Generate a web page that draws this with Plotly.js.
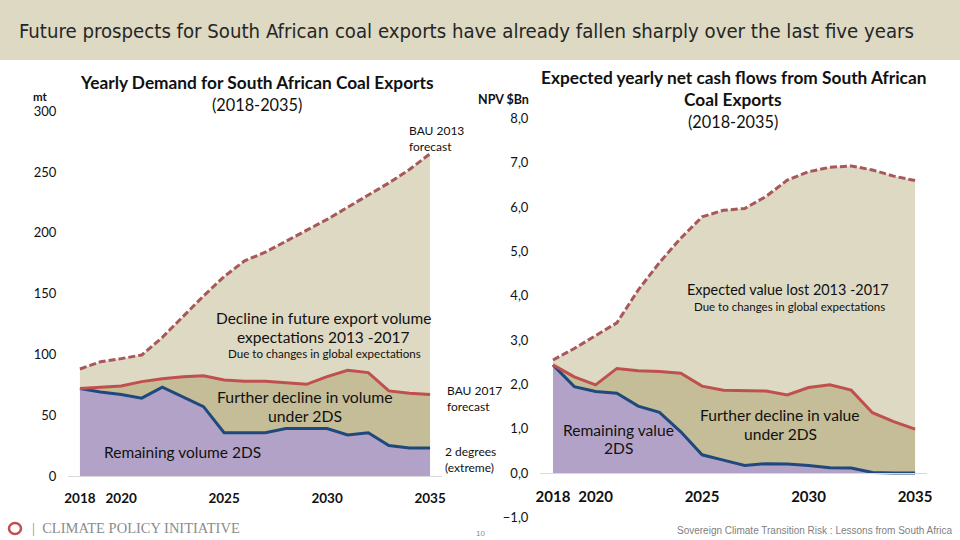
<!DOCTYPE html>
<html>
<head>
<meta charset="utf-8">
<script src="https://cdn.plot.ly/plotly-3.0.1.min.js"></script>
<style>
  html, body { margin: 0; padding: 0; background: #ffffff; }
  #chart { width: 960px; height: 540px; }
</style>
</head>
<body>
<div id="chart"></div>
<script>
// ---------- data ----------
const years = [2018, 2019, 2020, 2021, 2022, 2023, 2024, 2025, 2026, 2027, 2028, 2029, 2030, 2031, 2032, 2033, 2034, 2035];

// Left panel: yearly demand (mt)
const volBau2013 = [88, 94, 96.5, 99.5, 114, 131, 148, 164, 177, 184, 193, 202, 211, 221, 231, 241, 252, 265];
const volBau2017 = [72, 73, 74, 77.6, 80, 81.7, 82.5, 79, 78, 78, 77, 75.4, 81.7, 87, 85, 70, 68, 67];
const vol2DS     = [72, 69, 67, 64, 73, 65, 57, 35.6, 35.6, 35.6, 39, 39, 39, 33.7, 35.6, 25, 23, 23];

// Right panel: expected yearly net cash flows (NPV $Bn)
const cashBau2013 = [2.55, 2.81, 3.1, 3.39, 4.13, 4.75, 5.3, 5.78, 5.93, 5.97, 6.24, 6.61, 6.8, 6.9, 6.93, 6.84, 6.7, 6.6];
const cashBau2017 = [2.44, 2.17, 1.99, 2.36, 2.31, 2.29, 2.25, 1.96, 1.87, 1.86, 1.85, 1.76, 1.93, 1.99, 1.87, 1.36, 1.16, 0.99];
const cash2DS     = [2.44, 1.95, 1.84, 1.8, 1.51, 1.37, 0.93, 0.41, 0.29, 0.17, 0.21, 0.2, 0.17, 0.12, 0.11, 0.01, 0, 0];

const xTicks = [2018, 2020, 2025, 2030, 2035];
const leftYTicks = [0, 50, 100, 150, 200, 250, 300];
const rightYTicks = [-1, 0, 1, 2, 3, 4, 5, 6, 7, 8];

// ---------- styles ----------
const C_PURPLE = '#b3a2c7';
const C_OLIVE = '#c4bd97';
const C_BEIGE = '#ddd9c3';
const C_RED = '#c0504d';
const C_DASH = '#a8585a';
const C_BLUE = '#1f497d';
const F = 'Lato, "Open Sans", sans-serif';

const W = 960, H = 540;
const px = v => v / W;
const py = v => 1 - v / H;

function stack(xa, ya, low, mid, top) {
  return [
    { x: years, y: low, xaxis: xa, yaxis: ya, type: 'scatter', mode: 'lines',
      line: { color: C_BLUE, width: 3 }, fill: 'tozeroy', fillcolor: C_PURPLE, hoverinfo: 'skip' },
    { x: years, y: mid, xaxis: xa, yaxis: ya, type: 'scatter', mode: 'lines',
      line: { color: C_RED, width: 3 }, fill: 'tonexty', fillcolor: C_OLIVE, hoverinfo: 'skip' },
    { x: years, y: top, xaxis: xa, yaxis: ya, type: 'scatter', mode: 'lines',
      line: { color: C_DASH, width: 3, dash: '7px,3px' }, fill: 'tonexty', fillcolor: C_BEIGE, hoverinfo: 'skip' }
  ];
}

const data = [].concat(
  stack('x', 'y', vol2DS, volBau2017, volBau2013),
  stack('x2', 'y2', cash2DS, cashBau2017, cashBau2013)
);

function ann(text, x, y, opts) {
  return Object.assign({
    text: text, x: px(x), y: py(y), xref: 'paper', yref: 'paper',
    showarrow: false, xanchor: 'center', yanchor: 'middle',
    font: { family: F, size: 14, color: '#111111' }
  }, opts || {});
}
const f = (s) => ({ family: F, size: s, color: '#111' });

const annotations = [
  // header title
  ann('Future prospects for South African coal exports have already fallen sharply over the last five years', 17, 31,
      { xanchor: 'left', font: { family: '"Liberation Sans Narrow", "DejaVu Sans Condensed", sans-serif', size: 20.2, color: '#262626' } }),
  // left titles
  ann('<b>Yearly Demand for South African Coal Exports</b>', 257, 83, { font: f(17.3) }),
  ann('(2018-2035)', 257, 105, { font: f(16.3) }),
  ann('<b>mt</b>', 40, 97, { font: f(11.5) }),
  ann('BAU 2013<br>forecast', 407, 138, { xanchor: 'left', align: 'left', font: f(12) }),
  ann('Decline in future export volume', 323, 318, { font: f(15.5) }),
  ann('expectations 2013 -2017', 323, 337, { font: f(15.5) }),
  ann('Due to changes in global expectations', 324, 353, { font: f(11.6) }),
  ann('Further decline in volume', 305, 396, { font: f(15.8) }),
  ann('under 2DS', 305, 415, { font: f(15.8) }),
  ann('Remaining volume 2DS', 182, 452, { font: f(15.5) }),
  ann('BAU 2017<br>forecast', 445, 398, { xanchor: 'left', align: 'left', font: f(12) }),
  ann('2 degrees<br>(extreme)', 443, 459, { xanchor: 'left', align: 'left', font: f(12) }),
  // right titles
  ann('<b>Expected yearly net cash flows from South African</b>', 733, 78, { font: f(17.3) }),
  ann('<b>Coal Exports</b>', 733, 100, { font: f(17.3) }),
  ann('(2018-2035)', 733, 122, { font: f(16.3) }),
  ann('<b>NPV $Bn</b>', 503, 99, { font: f(12.5) }),
  ann('Expected value lost 2013 -2017', 788, 289, { font: f(14.4) }),
  ann('Due to changes in global expectations', 789, 306, { font: f(11.5) }),
  ann('Further decline in value', 780, 415, { font: f(15.6) }),
  ann('under 2DS', 780, 434, { font: f(15.6) }),
  ann('Remaining value', 618, 430, { font: f(15.6) }),
  ann('2DS', 618, 448, { font: f(15.6) }),
  // footer
  ann('|  CLIMATE POLICY INITIATIVE', 30, 528, { xanchor: 'left', font: { family: '"Liberation Serif", serif', size: 14.5, color: '#8c8c8c' } }),
  ann('10', 480, 533, { font: { family: 'Liberation Sans, Arial, sans-serif', size: 8, color: '#8c8c8c' } }),
  ann('Sovereign Climate Transition Risk : Lessons from South Africa', 955, 530,
      { xanchor: 'right', font: { family: 'Liberation Sans, Arial, sans-serif', size: 10, color: '#7f7f7f' } })
];

const shapes = [
  { type: 'rect', xref: 'paper', yref: 'paper', x0: 0, x1: 1, y0: py(60), y1: 1,
    fillcolor: C_BEIGE, line: { width: 0 }, layer: 'below' },
  // CPI logo swirl
  { type: 'circle', xref: 'paper', yref: 'paper', x0: px(9), x1: px(21), y0: py(534), y1: py(523),
    fillcolor: 'rgba(0,0,0,0)', line: { color: '#c0504d', width: 2.5 } }
];

const layout = {
  width: W, height: H,
  margin: { l: 0, r: 0, t: 0, b: 0 },
  paper_bgcolor: '#ffffff',
  plot_bgcolor: 'rgba(0,0,0,0)',
  showlegend: false,
  separators: ', ',
  font: { family: F, color: '#111' },
  xaxis: {
    domain: [px(68), px(442)], range: [2017.42, 2035.58], anchor: 'y',
    tickvals: xTicks, ticktext: xTicks.map(String),
    ticks: 'outside', ticklen: 10, tickcolor: 'rgba(0,0,0,0)',
    showgrid: false, zeroline: false, showline: true, linecolor: '#d9d9d9', linewidth: 1,
    tickfont: { family: F, size: 13.5, color: '#111', weight: 'bold' }, fixedrange: true
  },
  yaxis: {
    domain: [py(476), py(99)], range: [0, 310], anchor: 'x',
    tickvals: leftYTicks, ticks: 'outside', ticklen: 8, tickcolor: 'rgba(0,0,0,0)',
    showgrid: false, zeroline: false, showline: false,
    tickfont: { family: F, size: 13, color: '#111' }, fixedrange: true
  },
  xaxis2: {
    domain: [px(540), px(927)], range: [2017.39, 2035.56], anchor: 'free', position: py(473),
    tickvals: xTicks, ticktext: xTicks.map(String),
    ticks: 'outside', ticklen: 10, tickcolor: 'rgba(0,0,0,0)',
    showgrid: false, zeroline: false, showline: true, linecolor: '#d9d9d9', linewidth: 1,
    tickfont: { family: F, size: 15, color: '#111', weight: 'bold' }, fixedrange: true
  },
  yaxis2: {
    domain: [py(519.5), py(109.7)], range: [-1.05, 8.2], anchor: 'x2',
    tickvals: rightYTicks, tickformat: '.1f',
    ticks: 'outside', ticklen: 8, tickcolor: 'rgba(0,0,0,0)',
    showgrid: false, zeroline: false, showline: false,
    tickfont: { family: F, size: 13, color: '#111' }, fixedrange: true
  },
  annotations: annotations,
  shapes: shapes
};

Plotly.newPlot('chart', data, layout, { displayModeBar: false, staticPlot: true });
</script>
</body>
</html>
